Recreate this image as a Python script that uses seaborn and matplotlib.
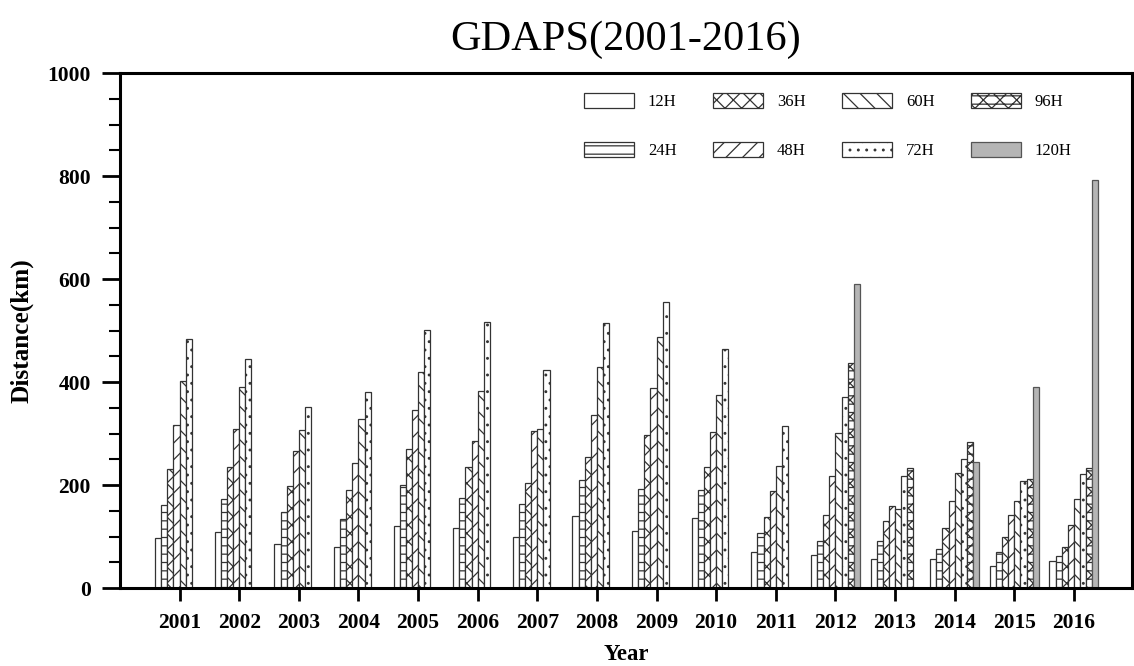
import numpy as np
import pandas as pd
import matplotlib
matplotlib.use("Agg")
import matplotlib.pyplot as plt
import matplotlib.patches as mpatches
from matplotlib.ticker import MultipleLocator
import seaborn as sns

# values (km), NaN where no bar is drawn
years = [str(y) for y in range(2001, 2017)]
leads = ["12H", "24H", "36H", "48H", "60H", "72H", "96H", "120H"]
nan = np.nan
h12 = [97, 108, 85, 80, 120, 117, 99, 140, 111, 137, 70, 64, 57, 56, 43, 53]
h24 = [162, 173, 147, 134, 200, 174, 163, 210, 193, 191, 107, 91, 92, 75, 71, 62]
h36 = [232, 235, 199, 191, 271, 236, 204, 254, 297, 235, 138, 142, 131, 117, 99, 80]
h48 = [316, 309, 267, 243, 345, 286, 306, 336, 389, 303, 189, 217, 160, 170, 141, 122]
h60 = [403, 390, 307, 329, 420, 383, 309, 430, 487, 375, 237, 301, 154, 224, 169, 173]
h72 = [483, 445, 351, 381, 501, 517, 424, 514, 555, 464, 315, 372, 218, 251, 208, 222]
h96 = [nan] * 11 + [438, 234, 283, 211, 234]
h120 = [nan] * 11 + [590, nan, 244, 390, 793]

series = [h12, h24, h36, h48, h60, h72, h96, h120]
hatches = ["", "--", "xx", "//", "\\\\", "..", "xx--", ""]
faces = ["white"] * 7 + ["#b5b5b5"]
edges = ["#333333"] * 7 + ["#555555"]

df = pd.DataFrame({
    "Year": np.tile(years, len(leads)),
    "Lead": np.repeat(leads, len(years)),
    "Distance": np.concatenate(series),
})

sns.set_theme(style="ticks")
serif = ["Liberation Serif", "DejaVu Serif"]
plt.rcParams["font.family"] = serif
plt.rcParams["hatch.linewidth"] = 0.9
for k in ["text.color", "axes.labelcolor", "xtick.color", "ytick.color"]:
    plt.rcParams[k] = "black"

fig, ax = plt.subplots(figsize=(11.34, 6.66), dpi=100)
fig.subplots_adjust(left=0.1058, right=0.998, bottom=0.117, top=0.890)

sns.barplot(data=df, x="Year", y="Distance", hue="Lead", order=years,
            hue_order=leads, palette=faces, width=0.82, saturation=1,
            edgecolor="#333333", linewidth=0.9, legend=False, ax=ax)

# hatch each lead time like the original
for cont, h, ec in zip(ax.containers, hatches, edges):
    for bar in cont:
        bar.set_hatch(h)
        bar.set_edgecolor(ec)

handles = [mpatches.Patch(facecolor=fc, edgecolor=ec, hatch=h, linewidth=0.9, label=l)
           for l, h, fc, ec in zip(leads, hatches, faces, edges)]
ax.legend(handles=handles, ncol=4, loc="upper left", bbox_to_anchor=(0.452, 0.975),
          borderaxespad=0, frameon=False, handlelength=3.0, handleheight=1.02,
          handletextpad=0.84, columnspacing=2.18, labelspacing=1.9,
          prop={"family": serif, "size": 12})

ax.set_xlim(-1.0, 15.97)
ax.set_ylim(0, 1000)
ax.set_yticks(range(0, 1001, 200))
ax.yaxis.set_minor_locator(MultipleLocator(50))

for s in ax.spines.values():
    s.set_visible(True)
    s.set_linewidth(2.2)
    s.set_color("black")

ax.tick_params(axis="y", which="major", length=13, width=2, direction="out", pad=8)
ax.tick_params(axis="y", which="minor", length=8, width=1.5, direction="out")
ax.tick_params(axis="x", length=9, width=2, direction="out", pad=9)
for lab in ax.get_xticklabels() + ax.get_yticklabels():
    lab.set_fontsize(15.5)
    lab.set_fontweight("bold")

ax.set_xlabel("Year", fontsize=16.4, fontweight="bold", labelpad=8)
ax.set_ylabel("Distance(km)", fontsize=18.2, fontweight="bold", labelpad=10)
ax.set_title("GDAPS(2001-2016)", fontsize=30.5, pad=17)

fig.savefig("out.png", dpi=100)
